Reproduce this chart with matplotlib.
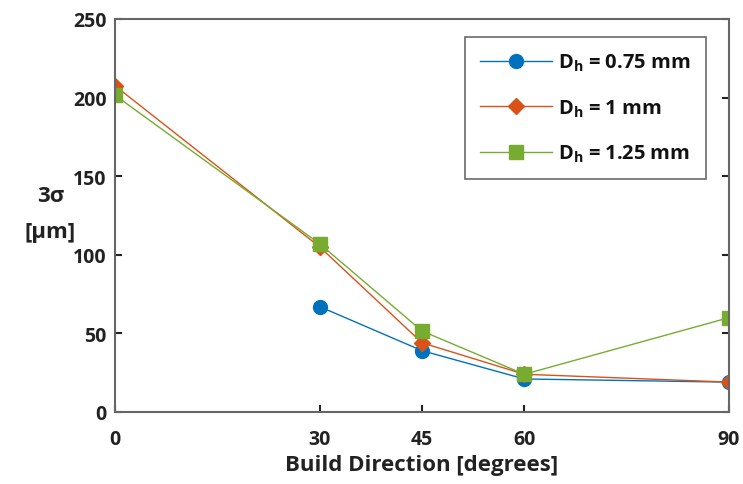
import matplotlib
matplotlib.use("Agg")
import matplotlib.pyplot as plt

angles = [0, 30, 45, 60, 90]
x_075 = [30, 45, 60, 90]
y_075 = [67, 39, 21, 19]
x_1 = [0, 30, 45, 60, 90]
y_1 = [207.5, 105, 44, 24, 19]
x_125 = [0, 30, 45, 60, 90]
y_125 = [201.5, 107, 51.5, 24, 60]
labels = [r"$\mathbf{D_h}$ = 0.75 mm", r"$\mathbf{D_h}$ = 1 mm", r"$\mathbf{D_h}$ = 1.25 mm"]
yticks = [0, 50, 100, 150, 200, 250]

plt.rcParams['font.family'] = ['Open Sans', 'DejaVu Sans']
plt.rcParams['font.weight'] = 'bold'
plt.rcParams['mathtext.fontset'] = 'custom'
plt.rcParams['mathtext.bf'] = 'Open Sans:bold'
plt.rcParams['mathtext.rm'] = 'Open Sans:bold'
plt.rcParams['mathtext.it'] = 'Open Sans:bold'

fig = plt.figure(figsize=(7.43, 4.85), dpi=100)
ax = fig.add_axes([0.1548, 0.1485, 0.9812 - 0.1548, 0.9588 - 0.1485])

ax.plot(x_075, y_075, '-o', color='#0072BD', lw=1.0, ms=10, label=labels[0])
ax.plot(x_1, y_1, '-D', color='#D95319', lw=1.0, ms=8.5, label=labels[1])
ax.plot(x_125, y_125, '-s', color='#77AC30', lw=1.0, ms=9.5, label=labels[2])

ax.set_xlim(0, 90)
ax.set_ylim(0, 250)
ax.set_xticks(angles)
ax.set_yticks(yticks)
for s in ax.spines.values():
    s.set_color('#666666')
    s.set_linewidth(1.5)
ax.tick_params(direction='in', length=5, width=1.5, color='#222222',
               labelsize=14, top=False, right=True)
ax.tick_params(axis='x', pad=12)
ax.tick_params(axis='y', pad=6)
for t in ax.get_xticklabels() + ax.get_yticklabels():
    t.set_fontweight('bold')
    t.set_color('#222222')

ax.set_xlabel('Build Direction [degrees]', fontsize=16, fontweight='bold', color='#222222', labelpad=4)
fig.text(0.068, 0.557, '3σ\n[μm]', fontsize=16, fontweight='bold', color='#222222',
         ha='center', va='center', linespacing=1.95)

leg = ax.legend(loc='upper right', bbox_to_anchor=(0.962, 0.955), fontsize=14.5,
                frameon=True, fancybox=False, handlelength=3.6, labelspacing=1.2,
                borderpad=0.75, handletextpad=0.3, borderaxespad=0)
leg.get_frame().set_edgecolor('#444444')
leg.get_frame().set_linewidth(1.2)
for t in leg.get_texts():
    t.set_color('#111111')

fig.savefig('out.png', dpi=100)
